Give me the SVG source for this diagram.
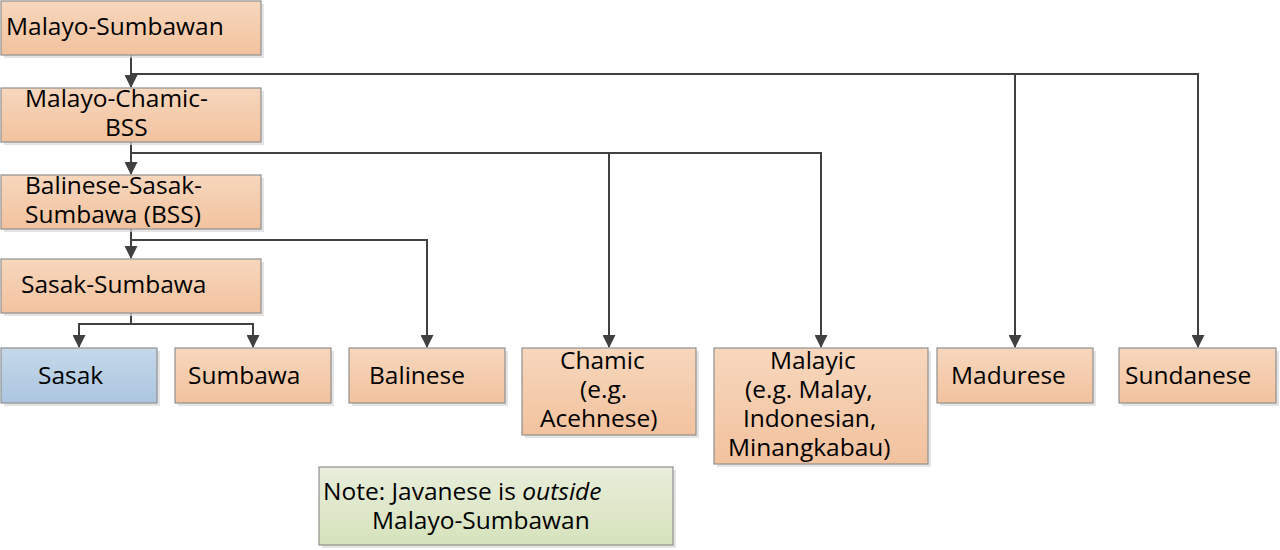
<svg xmlns="http://www.w3.org/2000/svg" width="1280" height="550" viewBox="0 0 1280 550">
<defs>
<linearGradient id="gO" x1="0" y1="0" x2="0" y2="1"><stop offset="0" stop-color="#f7d7bd"/><stop offset="1" stop-color="#f2c29e"/></linearGradient>
<linearGradient id="gB" x1="0" y1="0" x2="0" y2="1"><stop offset="0" stop-color="#c5d8ea"/><stop offset="1" stop-color="#abc6df"/></linearGradient>
<linearGradient id="gG" x1="0" y1="0" x2="0" y2="1"><stop offset="0" stop-color="#e8eedb"/><stop offset="1" stop-color="#d6e2bb"/></linearGradient>
<marker id="ah" markerWidth="13" markerHeight="13" viewBox="0 0 13 13" refX="12" refY="6.5" orient="auto" markerUnits="userSpaceOnUse">
<path d="M0,0 L13,6.5 L0,13 Z" fill="#404040"/>
</marker>
</defs>
<style>
.sh{fill:#d9d9d9;opacity:0.7}
.bx{stroke:#8f8f8f;stroke-width:1.2}
.o{fill:url(#gO)}
.b{fill:url(#gB)}
.g{fill:url(#gG)}
text{font-family:"Open Sans","Noto Sans","DejaVu Sans",sans-serif;font-size:24.5px;fill:#000}
.c{fill:none;stroke:#404040;stroke-width:2}
</style>
<g id="connectors">
<path class="c" d="M131,55 V87" marker-end="url(#ah)"/>
<path class="c" d="M131,74 H1015 V347" marker-end="url(#ah)"/>
<path class="c" d="M1015,74 H1198 V347" marker-end="url(#ah)"/>
<path class="c" d="M131,142 V174" marker-end="url(#ah)"/>
<path class="c" d="M131,153 H609 V347" marker-end="url(#ah)"/>
<path class="c" d="M609,153 H821 V347" marker-end="url(#ah)"/>
<path class="c" d="M131,229 V258" marker-end="url(#ah)"/>
<path class="c" d="M131,240 H427 V347" marker-end="url(#ah)"/>
<path class="c" d="M131,313 V324 H79 V347" marker-end="url(#ah)"/>
<path class="c" d="M131,324 H253 V347" marker-end="url(#ah)"/>
</g>
<g id="n-malayo-sumbawan">
<rect class="sh" x="4" y="4" width="260" height="54"/>
<rect class="bx o" x="1" y="1" width="260" height="54"/>
<text x="6" y="35">Malayo-Sumbawan</text>
</g>
<g id="n-malayo-chamic-bss">
<rect class="sh" x="4" y="91" width="260" height="54"/>
<rect class="bx o" x="1" y="88" width="260" height="54"/>
<text><tspan x="25" y="107">Malayo-Chamic-</tspan><tspan x="105" y="136">BSS</tspan></text>
</g>
<g id="n-bss">
<rect class="sh" x="4" y="178" width="260" height="54"/>
<rect class="bx o" x="1" y="175" width="260" height="54"/>
<text><tspan x="25" y="194">Balinese-Sasak-</tspan><tspan x="25" y="223">Sumbawa (BSS)</tspan></text>
</g>
<g id="n-sasak-sumbawa">
<rect class="sh" x="4" y="262" width="260" height="54"/>
<rect class="bx o" x="1" y="259" width="260" height="54"/>
<text x="21" y="293">Sasak-Sumbawa</text>
</g>
<g id="n-sasak">
<rect class="sh" x="4" y="351" width="156" height="55"/>
<rect class="bx b" x="1" y="348" width="156" height="55"/>
<text x="38" y="383.5">Sasak</text>
</g>
<g id="n-sumbawa">
<rect class="sh" x="178" y="351" width="156" height="55"/>
<rect class="bx o" x="175" y="348" width="156" height="55"/>
<text x="188" y="383.5">Sumbawa</text>
</g>
<g id="n-balinese">
<rect class="sh" x="352" y="351" width="156" height="55"/>
<rect class="bx o" x="349" y="348" width="156" height="55"/>
<text x="369" y="383.5">Balinese</text>
</g>
<g id="n-chamic">
<rect class="sh" x="525" y="351" width="174" height="87"/>
<rect class="bx o" x="522" y="348" width="174" height="87"/>
<text><tspan x="560" y="369">Chamic</tspan><tspan x="580" y="398">(e.g.</tspan><tspan x="540" y="427">Acehnese)</tspan></text>
</g>
<g id="n-malayic">
<rect class="sh" x="717" y="351" width="214" height="116"/>
<rect class="bx o" x="714" y="348" width="214" height="116"/>
<text><tspan x="770" y="369">Malayic</tspan><tspan x="745" y="398">(e.g. Malay,</tspan><tspan x="743" y="427">Indonesian,</tspan><tspan x="728" y="456">Minangkabau)</tspan></text>
</g>
<g id="n-madurese">
<rect class="sh" x="940" y="351" width="156" height="55"/>
<rect class="bx o" x="937" y="348" width="156" height="55"/>
<text x="951" y="383.5">Madurese</text>
</g>
<g id="n-sundanese">
<rect class="sh" x="1122" y="351" width="157" height="55"/>
<rect class="bx o" x="1119" y="348" width="157" height="55"/>
<text x="1125" y="383.5">Sundanese</text>
</g>
<g id="n-note">
<rect class="sh" x="322" y="470" width="354" height="78"/>
<rect class="bx g" x="319" y="467" width="354" height="78"/>
<text><tspan x="323" y="500">Note: Javanese is <tspan font-style="italic">outside</tspan></tspan><tspan x="372" y="529">Malayo-Sumbawan</tspan></text>
</g>
</svg>
